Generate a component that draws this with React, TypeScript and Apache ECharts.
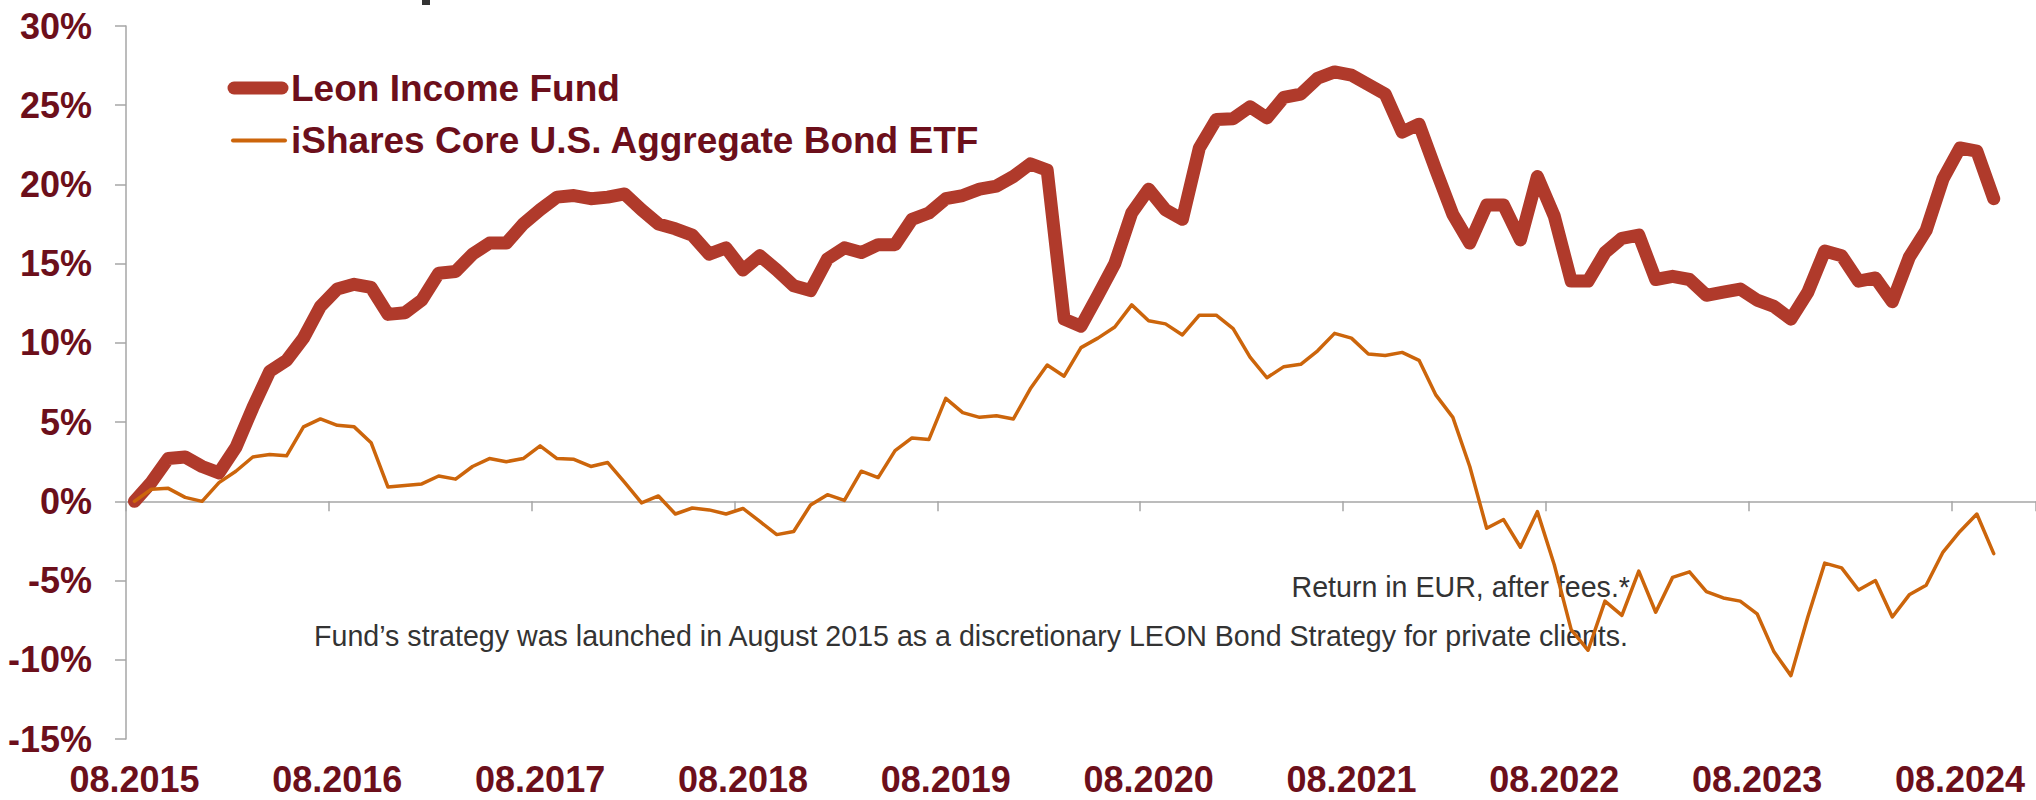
import React, { useEffect, useRef } from "react";
import * as echarts from "echarts";

// Monthly categories 08.2015 .. 12.2024 (axis runs a bit past the last data point)
const startYear = 2015;
const startMonth = 8;
const categoryCount = 113;
const categories: string[] = [];
for (let i = 0; i < categoryCount; i++) {
  const m = ((startMonth - 1 + i) % 12) + 1;
  const y = startYear + Math.floor((startMonth - 1 + i) / 12);
  categories.push(String(m).padStart(2, "0") + "." + y);
}

const leonIncomeFund: number[] = [
  0.0, 1.2, 2.7, 2.8, 2.2, 1.8, 3.4, 5.9, 8.2, 8.9, 10.3, 12.3,
  13.4, 13.7, 13.5, 11.8, 11.9, 12.7, 14.4, 14.5, 15.6, 16.3, 16.3, 17.5,
  18.4, 19.2, 19.3, 19.1, 19.2, 19.4, 18.4, 17.5, 17.2, 16.8, 15.6, 16.0,
  14.6, 15.5, 14.6, 13.6, 13.3, 15.3, 16.0, 15.7, 16.2, 16.2, 17.8, 18.2,
  19.1, 19.3, 19.7, 19.9, 20.5, 21.3, 20.9, 11.5, 11.05, 13.0, 15.0, 18.2,
  19.7, 18.4, 17.8, 22.3, 24.1, 24.15, 24.9, 24.2, 25.5, 25.7, 26.7, 27.1,
  26.9, 26.3, 25.7, 23.3, 23.8, 20.9, 18.1, 16.3, 18.7, 18.7, 16.5, 20.5,
  18.0, 13.9, 13.9, 15.7, 16.6, 16.8, 14.0, 14.2, 14.0, 13.0, 13.2, 13.4,
  12.7, 12.3, 11.5, 13.2, 15.8, 15.5, 13.9, 14.1, 12.6, 15.4, 17.1, 20.35,
  22.3, 22.1, 19.1,
];

const iSharesAggBond: number[] = [
  0.0, 0.76, 0.82, 0.25, 0.0, 1.18, 1.9, 2.8, 2.96, 2.87, 4.7, 5.2,
  4.8, 4.7, 3.7, 0.9, 1.0, 1.1, 1.6, 1.4, 2.2, 2.7, 2.5, 2.7,
  3.5, 2.7, 2.65, 2.2, 2.45, 1.2, -0.1, 0.34, -0.8, -0.42, -0.54, -0.8,
  -0.45, -1.27, -2.1, -1.9, -0.23, 0.42, 0.06, 1.9, 1.5, 3.2, 4.0, 3.9,
  6.5, 5.6, 5.3, 5.4, 5.2, 7.1, 8.6, 7.9, 9.7, 10.3, 11.0, 12.4,
  11.4, 11.2, 10.5, 11.75, 11.75, 10.9, 9.1, 7.8, 8.5, 8.65, 9.5, 10.6,
  10.3, 9.3, 9.2, 9.4, 8.9, 6.7, 5.3, 2.2, -1.7, -1.15, -2.9, -0.65,
  -4.0, -8.1, -9.4, -6.3, -7.2, -4.4, -7.0, -4.8, -4.45, -5.7, -6.1, -6.3,
  -7.1, -9.5, -11.0, -7.3, -3.9, -4.2, -5.6, -5.0, -7.3, -5.9, -5.3, -3.2,
  -1.9, -0.8, -3.3,
];

const seriesNames = ["Leon Income Fund", "iShares Core U.S. Aggregate Bond ETF"];
const yMin = -15;
const yMax = 30;
const yStep = 5;
const noteLines = [
  "Return in EUR, after fees.*",
  "Fund\u2019s strategy was launched in August 2015 as a discretionary LEON Bond Strategy for private clients.",
];

const LEON = "#B03A2B";
const ISH = "#CC650B";
const MAROON = "#6C0F1B";
const AXIS = "#A6A6A6";
const FONT = "'Liberation Sans', Arial, Helvetica, sans-serif";

export default function App() {
  const ref = useRef<HTMLDivElement>(null);
  useEffect(() => {
    if (!ref.current) return;
    const chart = echarts.init(ref.current, undefined, { renderer: "svg" });
    chart.setOption({
      animation: false,
      backgroundColor: "#ffffff",
      textStyle: { fontFamily: FONT },
      grid: { left: 126, top: 26, width: 1915, height: 713, containLabel: false },
      xAxis: [
        {
          type: "category",
          data: categories,
          boundaryGap: true,
          position: "bottom",
          axisLine: { show: false, onZero: false },
          axisTick: { show: false },
          axisLabel: {
            interval: 11,
            margin: 22,
            fontSize: 36,
            lineHeight: 36,
            fontWeight: "bold",
            color: MAROON,
            fontFamily: FONT,
          },
          splitLine: { show: false },
        },
        {
          type: "category",
          data: categories,
          boundaryGap: true,
          position: "bottom",
          axisLine: { show: true, onZero: true, lineStyle: { color: AXIS, width: 1.5 } },
          axisTick: { show: true, interval: 11, length: 10, lineStyle: { color: AXIS, width: 1.5 } },
          axisLabel: { show: false },
          splitLine: { show: false },
        },
      ],
      yAxis: {
        type: "value",
        min: yMin,
        max: yMax,
        interval: yStep,
        axisLine: { show: true, lineStyle: { color: AXIS, width: 1.5 } },
        axisTick: { show: true, length: 11, lineStyle: { color: AXIS, width: 1.5 } },
        axisLabel: {
          formatter: "{value}%",
          margin: 34,
          fontSize: 36,
          fontWeight: "bold",
          color: MAROON,
          fontFamily: FONT,
        },
        splitLine: { show: false },
      },
      series: [
        {
          name: seriesNames[0],
          type: "line",
          xAxisIndex: 0,
          data: leonIncomeFund,
          symbol: "none",
          showSymbol: false,
          lineStyle: { color: LEON, width: 13, cap: "round", join: "round" },
          z: 2,
        },
        {
          name: seriesNames[1],
          type: "line",
          xAxisIndex: 0,
          data: iSharesAggBond,
          symbol: "none",
          showSymbol: false,
          lineStyle: { color: ISH, width: 3.5, cap: "round", join: "round" },
          z: 3,
        },
      ],
      graphic: [
        { type: "rect", z: 1, shape: { x: 422, y: 0, width: 8, height: 5 }, style: { fill: "#333333" } },
        {
          type: "line",
          z: 5,
          shape: { x1: 234, y1: 88, x2: 282, y2: 88 },
          style: { stroke: LEON, lineWidth: 13, lineCap: "round" },
        },
        {
          type: "text",
          z: 5,
          x: 291,
          y: 88,
          style: {
            text: seriesNames[0],
            font: `bold 37px ${FONT}`,
            fill: MAROON,
            textAlign: "left",
            textVerticalAlign: "middle",
          },
        },
        {
          type: "line",
          z: 5,
          shape: { x1: 233, y1: 140.5, x2: 285, y2: 140.5 },
          style: { stroke: ISH, lineWidth: 4, lineCap: "round" },
        },
        {
          type: "text",
          z: 5,
          x: 291,
          y: 140,
          style: {
            text: seriesNames[1],
            font: `bold 37px ${FONT}`,
            fill: MAROON,
            textAlign: "left",
            textVerticalAlign: "middle",
          },
        },
        {
          type: "text",
          z: 1,
          x: 1630,
          y: 587,
          style: {
            text: noteLines[0],
            font: `28.6px ${FONT}`,
            fill: "#333333",
            textAlign: "right",
            textVerticalAlign: "middle",
          },
        },
        {
          type: "text",
          z: 1,
          x: 1628,
          y: 636,
          style: {
            text: noteLines[1],
            font: `28.6px ${FONT}`,
            fill: "#333333",
            textAlign: "right",
            textVerticalAlign: "middle",
          },
        },
      ],
    });
    return () => chart.dispose();
  }, []);
  return (
    <div
      ref={ref}
      style={{ position: "fixed", left: 0, top: 0, width: 2036, height: 800, background: "#fff" }}
    />
  );
}
